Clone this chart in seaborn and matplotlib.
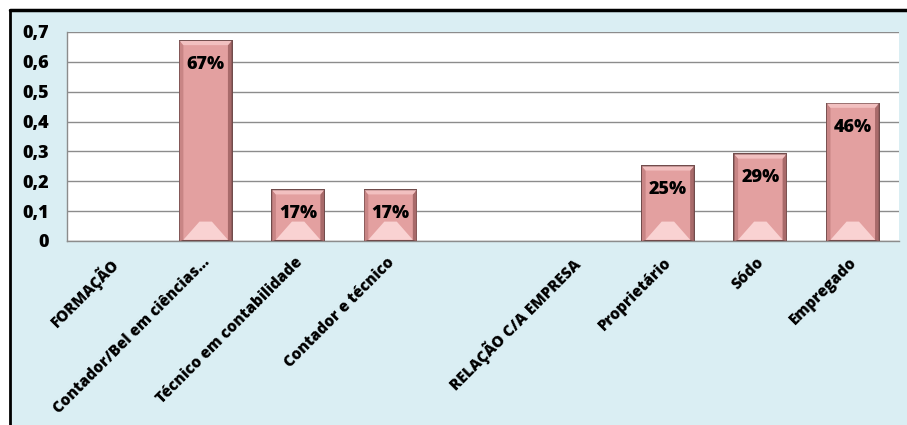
import matplotlib
matplotlib.use("Agg")
import matplotlib.pyplot as plt
from matplotlib.patches import Rectangle, Polygon
from matplotlib.transforms import ScaledTranslation
import seaborn as sns
import pandas as pd

categories = [
    "FORMAÇÃO",
    "Contador/Bel em ciências...",
    "Técnico em contabilidade",
    "Contador e técnico",
    " ",
    "RELAÇÃO C/A EMPRESA",
    "Proprietário",
    "Sódo",
    "Empregado",
]
values = [0.0, 0.67, 0.17, 0.17, 0.0, 0.0, 0.25, 0.29, 0.46]
labels = ["", "67%", "17%", "17%", "", "", "25%", "29%", "46%"]
yticks = [0, 0.1, 0.2, 0.3, 0.4, 0.5, 0.6, 0.7]
ytick_labels = ["0", "0,1", "0,2", "0,3", "0,4", "0,5", "0,6", "0,7"]

sns.set_theme(style="white")
plt.rcParams["font.family"] = ["Open Sans", "DejaVu Sans"]

bg = "#DAEEF3"
bar_face = "#E3A0A0"
bar_edge = "#6E4848"

fig = plt.figure(figsize=(9.07, 4.25), dpi=100)
fig.patch.set_facecolor("white")
# chart background panel with black top/left border
fig.patches.append(Rectangle((10 / 907, 0), 1.0, 1 - 10 / 425,
                             transform=fig.transFigure, facecolor=bg,
                             edgecolor="none", zorder=-10))
fig.add_artist(plt.Line2D([10 / 907, 10 / 907], [0, 1 - 10 / 425], color="black",
                          linewidth=2, transform=fig.transFigure))
fig.add_artist(plt.Line2D([10 / 907, 1], [1 - 10 / 425, 1 - 10 / 425], color="black",
                          linewidth=2.5, transform=fig.transFigure))

ax = fig.add_axes([67 / 907, 1 - 241 / 425, (899 - 67) / 907, (241 - 32) / 425])
ax.set_facecolor("white")

df = pd.DataFrame({"cat": categories, "val": values})
sns.barplot(data=df, x="cat", y="val", order=categories,
            color=bar_face, edgecolor=bar_edge, linewidth=1.4, width=0.56,
            saturation=1, ax=ax, zorder=3)

ax.set_ylim(0, 0.7)
ax.set_xlim(-0.5, len(categories) - 0.5)
ax.set_yticks(yticks)
ax.set_yticklabels(ytick_labels, fontsize=13, fontweight=800, color="black")
ax.yaxis.grid(True, color="#8C8C8C", linewidth=1)
ax.set_axisbelow(True)
for s in ax.spines.values():
    s.set_color("#8C8C8C")
    s.set_linewidth(1)
ax.spines["top"].set_visible(False)
ax.spines["right"].set_visible(False)
ax.tick_params(axis="y", length=0, pad=13)
ax.tick_params(axis="x", length=0, pad=4)
ax.set_xlabel("")
ax.set_ylabel("")

ax.set_xticks(range(len(categories)))
ax.set_xticklabels(categories, rotation=45, ha="right", va="top",
                   rotation_mode="anchor", fontsize=11, fontweight=800, color="black")
for t in ax.get_xticklabels():
    t.set_transform(t.get_transform() + ScaledTranslation(-4 / 100, -8 / 100, fig.dpi_scale_trans))

# bevel shading on each bar plus value labels
for patch, lab in zip(ax.patches, labels):
    h = patch.get_height()
    if h <= 0:
        patch.set_visible(False)
        continue
    x0 = patch.get_x()
    w = patch.get_width()
    side = w * 0.07
    top = 0.014
    # lighter bottom facet
    ax.add_patch(Polygon([(x0 + side, 0.004), (x0 + w - side, 0.004),
                          (x0 + w * 0.62, 0.065), (x0 + w * 0.38, 0.065)],
                         closed=True, facecolor="#F9D2D2", edgecolor="none", zorder=4))
    # darker side facets
    ax.add_patch(Polygon([(x0, 0), (x0 + side, 0.004), (x0 + side, h - top), (x0, h)],
                         closed=True, facecolor="#C88585", edgecolor="none", zorder=4))
    ax.add_patch(Polygon([(x0 + w, 0), (x0 + w - side, 0.004), (x0 + w - side, h - top), (x0 + w, h)],
                         closed=True, facecolor="#A86A6A", edgecolor="none", zorder=4))
    # light top facet
    ax.add_patch(Polygon([(x0, h), (x0 + w, h), (x0 + w - side, h - top), (x0 + side, h - top)],
                         closed=True, facecolor="#F2C0C0", edgecolor="none", zorder=4))
    ax.text(x0 + w / 2, h - 0.05, lab, ha="center", va="top", fontsize=13,
            fontweight=800, color="black", zorder=5)

fig.savefig("out.png", dpi=100)
